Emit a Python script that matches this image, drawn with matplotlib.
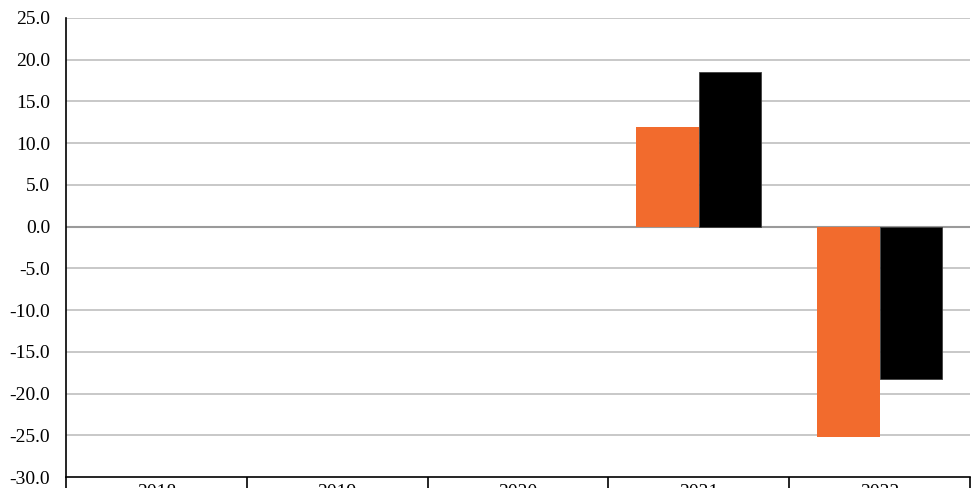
import matplotlib
matplotlib.use("Agg")
import matplotlib.pyplot as plt
import numpy as np

categories = ["2018", "2019", "2020", "2021", "2022"]
series_orange = [np.nan, np.nan, np.nan, 11.9, -25.2]
series_black = [np.nan, np.nan, np.nan, 18.5, -18.3]
yticks = [-30, -25, -20, -15, -10, -5, 0, 5, 10, 15, 20, 25]

plt.rcParams['font.family'] = ['Liberation Serif', 'DejaVu Serif']

fig = plt.figure(figsize=(9.72, 4.88), dpi=100)
ax = fig.add_axes([66/972, 11/488, 904/972, 459/488])

x = np.arange(len(categories))
w = 0.345
ax.bar(x - w/2, series_orange, width=w, color="#F26B2D", zorder=3)
ax.bar(x + w/2, series_black, width=w, color="#000000", edgecolor="#404040", linewidth=0.6, zorder=3)

ax.set_xlim(-0.5, len(categories) - 0.5)
ax.set_ylim(-30, 25)
ax.set_yticks(yticks)
ax.set_yticklabels([f"{v:.1f}" for v in yticks], fontsize=14)
ax.tick_params(axis='y', length=0, pad=11.5)

ax.set_xticks(x)
ax.set_xticklabels(categories, fontsize=14)
ax.set_xticks(np.arange(len(categories) + 1) - 0.5, minor=True)
ax.tick_params(axis='x', which='major', length=0, pad=5)
ax.tick_params(axis='x', which='minor', length=14, width=1.2, color='black', direction='out')

for v in yticks:
    if v == 0:
        ax.axhline(v, color="#9a9a9a", linewidth=1.5, zorder=2)
    elif v != -30:
        ax.axhline(v, color="#c4c4c4", linewidth=1.3, zorder=1)

for s in ['top', 'right']:
    ax.spines[s].set_visible(False)
ax.spines['left'].set_linewidth(1.2)
ax.spines['bottom'].set_linewidth(1.2)

fig.savefig("out.png", dpi=100)
